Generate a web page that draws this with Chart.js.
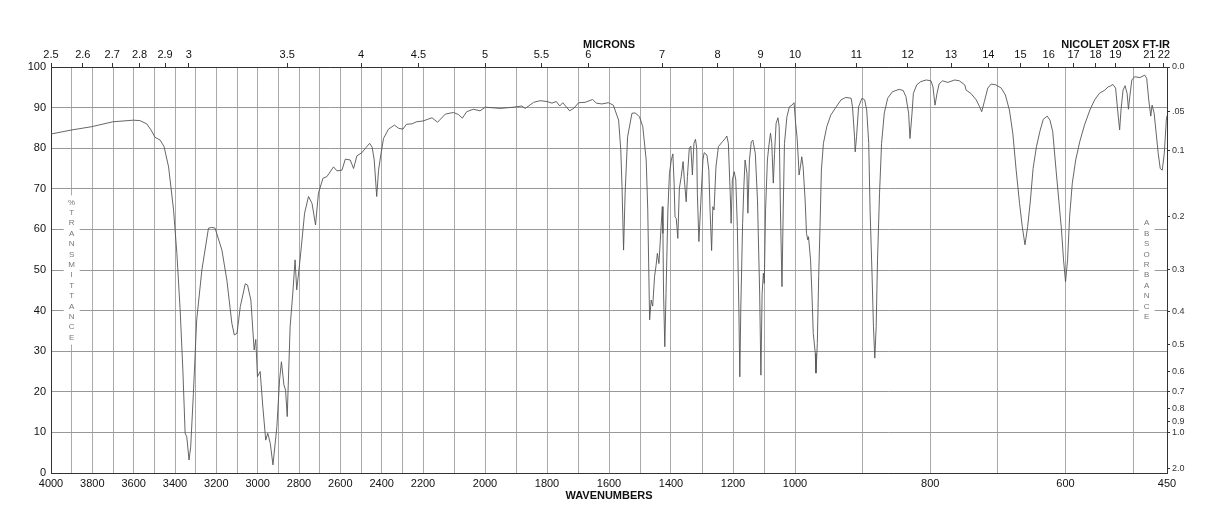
<!DOCTYPE html>
<html>
<head>
<meta charset="utf-8">
<title>IR-Spektrum</title>
<script src="https://cdn.jsdelivr.net/npm/chart.js@4.4.1/dist/chart.umd.min.js"></script>
<style>
    html, body { margin: 0; padding: 0; background: #fff; }
    #wrap { width: 1218px; height: 528px; }
</style>
</head>
<body>
<div id="wrap"><canvas id="irChart" width="1218" height="528"></canvas></div>
<script>
// Wellenzahlen (cm-1)
const wavenumbers = [
    4000, 3899, 3803, 3701, 3602, 3570, 3537, 3516, 3497, 3472, 3453, 3431, 3407, 3391, 3375, 3362,
    3351, 3343, 3332, 3324, 3311, 3295, 3270, 3238, 3222, 3206, 3173, 3149, 3125, 3113, 3100, 3084,
    3060, 3049, 3033, 3017, 3009, 3001, 2988, 2975, 2961, 2951, 2939, 2926, 2907, 2894, 2885, 2873,
    2865, 2857, 2843, 2830, 2819, 2811, 2795, 2773, 2754, 2737, 2720, 2706, 2684, 2665, 2633, 2616,
    2592, 2576, 2552, 2536, 2520, 2496, 2475, 2458, 2446, 2436, 2424, 2415, 2403, 2391, 2367, 2338,
    2318, 2297, 2280, 2253, 2232, 2200,
    2171, 2153, 2128, 2102, 2086, 2073, 2059, 2037, 2016, 1999, 1951, 1908, 1881, 1870, 1843, 1822,
    1800, 1784, 1770, 1759, 1749, 1727, 1714, 1698, 1677, 1653, 1641, 1623, 1602, 1586, 1569, 1562,
    1558, 1553, 1548, 1540, 1526, 1516, 1502, 1491, 1480, 1475, 1469, 1464, 1459, 1453, 1448, 1444,
    1439, 1435, 1432, 1428, 1426, 1424, 1420, 1416, 1410, 1405, 1399, 1394, 1390, 1387, 1383, 1378,
    1373, 1367, 1361, 1357, 1351, 1347, 1341, 1336, 1331, 1326, 1321, 1317, 1315, 1310, 1304, 1297,
    1293, 1284, 1278, 1274, 1269, 1265, 1261, 1255, 1247, 1234, 1225, 1220, 1215, 1209, 1206, 1202,
    1196, 1191, 1186, 1181, 1178, 1175, 1169, 1165, 1161, 1155, 1152, 1147, 1141, 1136, 1128, 1121,
    1114, 1110, 1106, 1102, 1099, 1095, 1089, 1084, 1079, 1075, 1070, 1066, 1061, 1055, 1051, 1047,
    1042, 1038, 1034, 1026, 1018, 1010, 1003, 999, 997,
    995, 994, 992, 990, 988, 985, 983, 981, 980, 977, 975, 973, 970, 969, 967, 965,
    963, 961, 958, 953, 947, 939, 932, 925, 917, 915, 912, 911, 909, 906, 901, 897,
    894, 891, 889, 886, 884, 882, 880, 878, 875, 872, 868, 863, 856, 846, 840, 836,
    832, 830, 827, 825, 820, 814, 806, 799, 796, 793, 790, 787, 782, 774, 764, 757,
    749, 747, 740, 732, 727, 724, 720, 715, 710, 703, 695, 689, 683, 678, 673, 668,
    664, 660, 656, 652, 648, 643, 638, 633, 627, 623, 619, 614, 610, 606, 603, 600,
    597, 594, 590, 585, 579, 572, 564, 557, 550, 542, 537, 534, 530, 526, 523, 520,
    518, 515, 512, 509, 507, 505, 502, 498, 490, 483, 480, 477, 474, 472, 469, 466,
    463, 460, 457, 454, 451, 450
];

// Transmission in % zu jeder Wellenzahl
const transmittance = [
    83.5, 84.5, 85.3, 86.5, 86.9, 86.8, 86.0, 84.5, 82.7, 82.0, 80.4, 75.4, 64.8, 54.1, 40.1, 25.4,
    9.8, 8.9, 3.2, 6.5, 19.6, 37.7, 50.0, 60.3, 60.5, 60.3, 54.9, 47.5, 36.9, 34.0, 34.4, 41.0,
    46.6, 46.3, 42.6, 30.3, 32.9, 23.7, 25.0, 16.3, 8.1, 9.8, 7.3, 2.0, 11.4, 22.9, 27.4, 21.7,
    20.4, 13.9, 36.0, 44.3, 52.5, 45.1, 52.5, 64.0, 68.1, 66.4, 61.1, 68.9, 72.6, 73.0, 75.4, 74.4,
    74.6, 77.3, 77.1, 75.0, 78.1, 78.9, 80.2, 81.2, 80.2, 77.1, 68.1, 74.6, 78.7, 82.4, 84.7, 85.7,
    84.9, 84.7, 85.9, 86.0, 86.5, 86.7,
    87.5, 86.4, 88.4, 88.8, 88.3, 87.4, 89.0, 89.6, 89.2, 90.1, 89.8, 90.1, 90.4, 89.8, 91.3, 91.7,
    91.5, 91.1, 91.5, 90.4, 91.2, 89.2, 89.8, 91.2, 91.3, 92.0, 91.1, 90.9, 91.2, 90.6, 86.9, 79.6,
    70.5, 54.9, 68.9, 82.8, 88.6, 88.7, 87.8, 85.3, 77.1, 64.8, 37.7, 42.6, 41.1, 48.4, 51.2, 54.1,
    51.6, 56.6, 60.7, 65.6, 59.0, 44.3, 31.1, 44.3, 64.8, 73.8, 77.1, 78.6, 71.4, 63.1, 62.7, 57.8,
    70.1, 73.0, 76.7, 72.2, 66.8, 73.0, 80.0, 80.5, 73.4, 81.2, 82.2, 80.0, 68.9, 57.0, 66.4, 77.1,
    78.9, 78.3, 74.6, 64.8, 54.8, 65.6, 64.8, 75.4, 80.4, 81.6, 82.4, 83.0, 81.2, 68.9, 61.5, 72.2,
    74.2, 72.2, 60.7, 40.1, 23.7, 40.1, 61.5, 70.5, 77.1, 73.8, 64.0, 77.1, 81.6, 82.0, 78.7, 67.2,
    44.3, 24.1, 44.3, 49.2, 46.7, 64.8, 77.1, 80.8, 83.7, 81.2, 71.4, 78.7, 86.1, 87.5, 85.3, 64.8,
    45.9, 64.8, 81.2, 87.8, 90.2, 90.6, 91.2, 86.0, 82.8,
    77.1, 73.4, 75.4, 77.9, 75.4, 67.2, 59.0, 57.4, 58.2, 52.5, 44.3, 34.4, 29.5, 24.6, 31.9, 48.4,
    60.7, 74.6, 81.2, 85.3, 88.2, 90.2, 91.9, 92.5, 92.3, 90.2, 82.8, 79.1, 82.8, 90.2, 92.3, 91.9,
    89.4, 81.2, 64.8, 48.4, 36.0, 28.3, 36.0, 52.5, 68.9, 81.2, 88.6, 92.3, 93.9, 94.5, 94.2, 92.7,
    88.6, 82.4, 88.6, 93.5, 95.6, 96.4, 96.8, 96.6, 95.1, 90.6, 93.5, 95.8, 96.6, 96.2, 96.8, 96.6,
    95.6, 94.3, 93.5, 91.9, 90.2, 89.0, 91.5, 94.8, 95.8, 95.6, 94.8, 93.1, 89.4, 83.7, 74.6, 66.4,
    60.7, 56.2, 60.7, 67.0, 75.0, 80.4, 84.1, 87.1, 87.9, 86.9, 84.1, 74.6, 67.2, 59.9, 52.5, 47.1,
    52.5, 63.1, 71.4, 77.1, 81.6, 85.7, 89.4, 91.9, 93.5, 94.3, 95.1, 95.3, 95.7, 94.8, 89.4, 84.5,
    89.4, 94.3, 95.4, 93.5, 89.6, 92.7, 96.8, 97.6, 97.4, 98.0, 97.2, 91.9, 87.9, 90.6, 88.6, 83.7,
    78.7, 75.0, 74.6, 78.7, 86.9, 88.0
];

// Achsenbeschriftungen
const wnLabels = [4000, 3800, 3600, 3400, 3200, 3000, 2800, 2600, 2400, 2200, 2000, 1800, 1600, 1400, 1200, 1000, 800, 600, 450];
const micronLabels = [2.5, 2.6, 2.7, 2.8, 2.9, 3, 3.5, 4, 4.5, 5, 5.5, 6, 7, 8, 9, 10, 11, 12, 13, 14, 15, 16, 17, 18, 19, 21, 22];
const tLabels = [0, 10, 20, 30, 40, 50, 60, 70, 80, 90, 100];
const absValues = [0, 0.05, 0.1, 0.2, 0.3, 0.4, 0.5, 0.6, 0.7, 0.8, 0.9, 1.0, 2.0];
const absLabels = ['0.0', '.05', '0.1', '0.2', '0.3', '0.4', '0.5', '0.6', '0.7', '0.8', '0.9', '1.0', '2.0'];

// Gitter alle 100 cm-1
const gridWn = [];
for (let v = 4000; v >= 500; v -= 100) gridWn.push(v);
gridWn.push(450);

// Die Wellenzahlachse ist in drei gleich breite Abschnitte geteilt: 4000-2200, 2200-1000, 1000-450
const breaks = [4000, 2200, 1000, 450];
function waveFrac(v) {
    for (let i = 0; i < 3; i++) {
        if (v >= breaks[i + 1] || i === 2) {
            return (i + (breaks[i] - v) / (breaks[i] - breaks[i + 1])) / 3;
        }
    }
}
function fracWave(f) {
    const i = Math.min(2, Math.max(0, Math.floor(f * 3)));
    return breaks[i] - (f * 3 - i) * (breaks[i] - breaks[i + 1]);
}

class WaveScale extends Chart.LinearScale {
    getPixelForValue(value) {
        return this.left + waveFrac(value) * (this.right - this.left);
    }
    getValueForPixel(pixel) {
        return fracWave((pixel - this.left) / (this.right - this.left));
    }
}
WaveScale.id = 'wave';
WaveScale.defaults = Chart.LinearScale.defaults;
Chart.register(WaveScale);

const FONT = '"Liberation Sans", Arial, sans-serif';
Chart.defaults.font.family = FONT;
Chart.defaults.font.size = 11;
Chart.defaults.color = '#111';

// senkrechte Buchstaben mit weissem Hintergrund
function drawStacked(ctx, text, cx, cy) {
    const step = 10.4;
    const n = text.length;
    const top = cy - (n - 1) * step / 2;
    ctx.save();
    ctx.fillStyle = '#fff';
    ctx.fillRect(cx - 8, top - 7, 16, (n - 1) * step + 14);
    ctx.fillStyle = '#777';
    ctx.font = '8px ' + FONT;
    ctx.textAlign = 'center';
    ctx.textBaseline = 'middle';
    for (let i = 0; i < n; i++) {
        ctx.fillText(text[i], cx, top + i * step);
    }
    ctx.restore();
}

const decor = {
    id: 'decor',
    beforeDatasetsDraw(chart) {
        const { ctx, scales: { x, y } } = chart;
        drawStacked(ctx, '%TRANSMITTANCE', x.getPixelForValue(3900), y.getPixelForValue(50));
        drawStacked(ctx, 'ABSORBANCE', x.getPixelForValue(480), y.getPixelForValue(50));
    },
    afterDraw(chart) {
        const { ctx, chartArea } = chart;
        ctx.save();
        ctx.fillStyle = '#111';
        ctx.font = 'bold 11px ' + FONT;
        ctx.textBaseline = 'middle';
        ctx.textAlign = 'center';
        const mid = (chartArea.left + chartArea.right) / 2;
        ctx.fillText('MICRONS', mid, 45);
        ctx.fillText('WAVENUMBERS', mid, 496);
        ctx.textAlign = 'right';
        ctx.fillText('NICOLET 20SX FT-IR', chartArea.right + 3, 45);
        ctx.restore();
    }
};

const ctx = document.getElementById('irChart').getContext('2d');
const irChart = new Chart(ctx, {
    type: 'line',
    data: {
        datasets: [{
            data: wavenumbers.map((w, i) => ({ x: w, y: transmittance[i] })),
            borderColor: '#555',
            borderWidth: 0.9,
            pointRadius: 0,
            tension: 0,
            fill: false
        }]
    },
    options: {
        responsive: false,
        animation: false,
        devicePixelRatio: 1,
        events: [],
        layout: { padding: 0 },
        plugins: { legend: { display: false }, tooltip: { enabled: false } },
        scales: {
            x: {
                type: 'wave', position: 'bottom', min: 450, max: 4000,
                afterFit: s => { s.height = 55; },
                afterBuildTicks: s => { s.ticks = gridWn.map(v => ({ value: v })); },
                ticks: {
                    autoSkip: false, maxRotation: 0, padding: 4,
                    callback: v => wnLabels.includes(v) ? String(v) : ''
                },
                grid: { color: '#aaa', drawTicks: false },
                border: { color: '#333' }
            },
            x2: {
                type: 'wave', position: 'top', min: 450, max: 4000,
                afterFit: s => { s.height = 67; },
                afterBuildTicks: s => { s.ticks = micronLabels.map(m => ({ value: 10000 / m })); },
                ticks: {
                    autoSkip: false, maxRotation: 0, padding: 1,
                    callback: (v, i) => String(micronLabels[i])
                },
                grid: { drawOnChartArea: false, tickLength: 4, color: '#333' },
                border: { color: '#333' }
            },
            y: {
                type: 'linear', position: 'left', min: 0, max: 100,
                afterFit: s => { s.width = 51; },
                afterBuildTicks: s => { s.ticks = tLabels.map(v => ({ value: v })); },
                ticks: { autoSkip: false, padding: 5 },
                grid: { color: '#999', drawTicks: false },
                border: { color: '#333' }
            },
            y2: {
                type: 'linear', position: 'right', min: 0, max: 100,
                afterFit: s => { s.width = 51; },
                afterBuildTicks: s => { s.ticks = absValues.map(a => ({ value: 100 * Math.pow(10, -a) })); },
                ticks: {
                    autoSkip: false, padding: 2, color: '#333', font: { size: 9 },
                    callback: (v, i) => absLabels[i]
                },
                grid: { drawOnChartArea: false, tickLength: 3, color: '#333' },
                border: { color: '#333' }
            }
        }
    },
    plugins: [decor]
});
</script>
</body>
</html>
